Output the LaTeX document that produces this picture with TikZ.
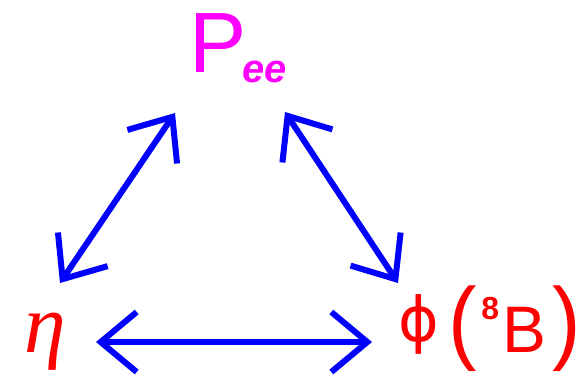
\documentclass[tikz,border=0pt]{standalone}
\usepackage{fontspec}
\usepackage{graphicx}
\setmainfont{Liberation Sans}
\newfontfamily\serifit{Liberation Serif}
\newfontfamily\greeksans{DejaVu Sans}
\usetikzlibrary{arrows.meta,positioning}
\definecolor{arrowblue}{RGB}{0,0,255}
\definecolor{textred}{RGB}{255,0,0}
\definecolor{textmagenta}{RGB}{255,0,255}
\tikzset{
    label/.style={
        inner sep=0pt,
        anchor=base west
    },
    probnode/.style={
        label,
        text=textmagenta
    },
    obsnode/.style={
        label,
        text=textred
    },
    link/.style={
        arrowblue,
        line width=6bp,
        {Straight Barb[length=36bp,width=60bp]}-{Straight Barb[length=36bp,width=60bp]}
    }
}

\begin{document}
\begin{tikzpicture}[x=1bp,y=-1bp]
        \useasboundingbox (0,0) rectangle (586,377);

        % Survival probability (top)
        \node[probnode] (pee) at (189,72) {\fontsize{86}{86}\selectfont P\hspace{-4bp}\raisebox{-10bp}{\fontsize{40}{40}\selectfont\bfseries\itshape ee}};

        % Observables (bottom)
        \node[obsnode] (eta) at (24,352) {\fontsize{84}{84}\selectfont\serifit\itshape η};
        \node[obsnode] (flux) at (398,352) {\raisebox{11bp}{\fontsize{62}{62}\selectfont\greeksans ϕ}\hspace{10bp}\fontsize{66}{66}\selectfont\scalebox{1.3}[1.4]{(}\hspace{4bp}\raisebox{33bp}{\fontsize{32}{32}\selectfont\bfseries 8}\hspace{3bp}B\hspace{6bp}\scalebox{1.3}[1.4]{)}};

        % Arrow ends
        \coordinate (l1) at (60,283);
        \coordinate (l2) at (175,113);
        \coordinate (r1) at (285,112);
        \coordinate (r2) at (398,283);
        \coordinate (h1) at (96,342);
        \coordinate (h2) at (372,342);

        % Links
        \draw[link] (l1) -- (l2);
        \draw[link] (r1) -- (r2);
        \draw[link] (h1) -- (h2);
    \end{tikzpicture}
\end{document}
